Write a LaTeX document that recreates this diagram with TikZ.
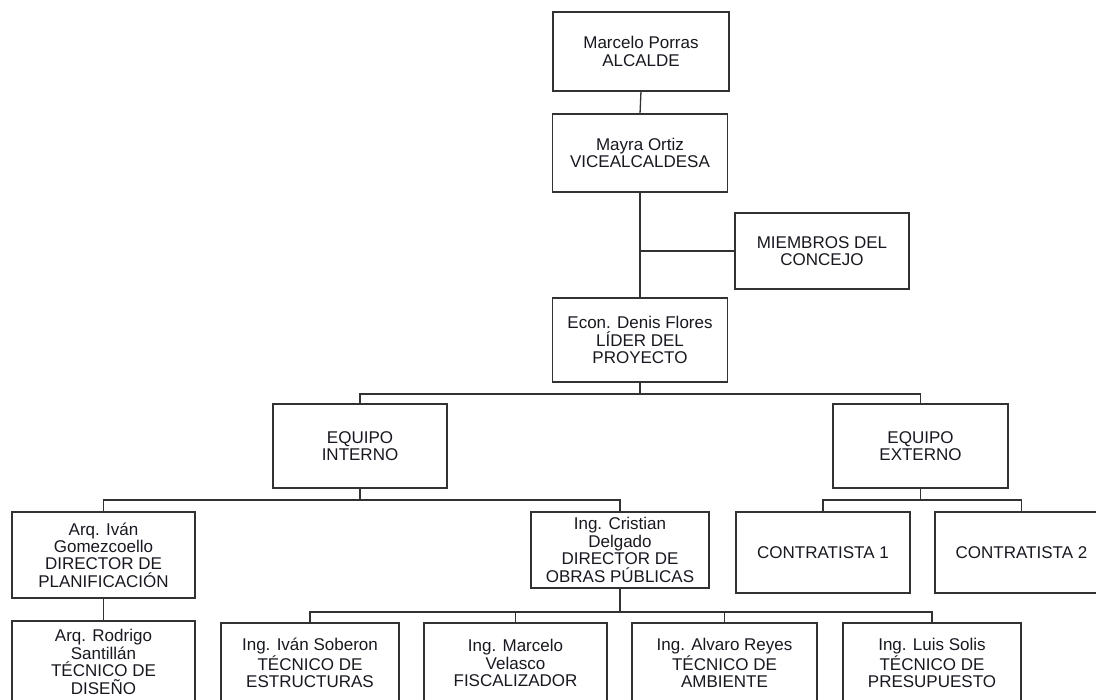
\documentclass[tikz,border=0pt]{standalone}
\usepackage{fontspec}
\setmainfont{Liberation Sans}
\usetikzlibrary{positioning, calc}
\definecolor{linegray}{RGB}{50,50,50}
\definecolor{textgray}{RGB}{24,24,32}

\begin{document}
\begin{tikzpicture}[x=1pt, y=-1pt,
    unit/.style ={rectangle, draw=linegray, line width=1.3pt, fill=white, align=center, inner sep=0pt, outer sep=0pt, text=textgray, font=\fontsize{17}{17.4}\selectfont},
    link/.style ={draw=linegray, line width=1.3pt}
]
% --- frame (the picture is cut at the bottom and right) ---
\useasboundingbox (0,0) rectangle (1096,700);
\clip (0,0) rectangle (1096,700);
\fill[white] (0,0) rectangle (1096,700);

% --- top of the chart ---
\node[unit, minimum width=176pt, minimum height=79pt] (alcalde)  at (641,51.5)  {Marcelo Porras\\ALCALDE};
\node[unit, minimum width=175pt, minimum height=78pt] (vice)     at (640,153)   {Mayra Ortiz\\VICEALCALDESA};
\node[unit, minimum width=174pt, minimum height=76pt] (miembros) at (822,251)   {MIEMBROS DEL\\CONCEJO};
\node[unit, minimum width=175pt, minimum height=84pt] (lider)    at (640,340)   {Econ. Denis Flores\\LÍDER DEL\\PROYECTO};

% --- teams ---
\node[unit, minimum width=174pt, minimum height=84pt] (interno)  at (360,446)   {EQUIPO\\INTERNO};
\node[unit, minimum width=175pt, minimum height=84pt] (externo)  at (920.5,446) {EQUIPO\\EXTERNO};

% --- directors and contractors ---
\node[unit, minimum width=183pt, minimum height=86pt] (ivan)     at (103.5,555) {Arq. Iván\\Gomezcoello\\DIRECTOR DE\\PLANIFICACIÓN};
\node[unit, minimum width=178pt, minimum height=76pt] (cristian) at (620,550)   {Ing. Cristian\\Delgado\\DIRECTOR DE\\OBRAS PÚBLICAS};
\node[unit, minimum width=174pt, minimum height=81pt] (contr1)   at (823,552.5) {CONTRATISTA 1};
\node[unit, minimum width=173pt, minimum height=81pt] (contr2)   at (1021.5,552.5) {CONTRATISTA 2};

% --- technicians (bottom row) ---
\node[unit, minimum width=183pt, minimum height=82pt] (rodrigo)  at (103.5,662) {Arq. Rodrigo\\Santillán\\TÉCNICO DE\\DISEÑO};
\node[unit, minimum width=178pt, minimum height=80pt] (soberon)  at (310,663)   {Ing. Iván Soberon\\TÉCNICO DE\\ESTRUCTURAS};
\node[unit, minimum width=183pt, minimum height=80pt] (velasco)  at (515.5,663) {Ing. Marcelo\\Velasco\\FISCALIZADOR};
\node[unit, minimum width=185pt, minimum height=80pt] (reyes)    at (724.5,663) {Ing. Alvaro Reyes\\TÉCNICO DE\\AMBIENTE};
\node[unit, minimum width=178pt, minimum height=80pt] (solis)    at (932,663)   {Ing. Luis Solis\\TÉCNICO DE\\PRESUPUESTO};

% --- connectors ---
\draw[link] (alcalde.south) -- (vice.north);
\draw[link] (vice.south) -- (lider.north);
\draw[link] (vice.south |- miembros.west) -- (miembros.west);
\draw[link] (lider.south) -- ++(0,12) -| (interno.north);
\draw[link] (lider.south) -- ++(0,12) -| (externo.north);
\draw[link] (interno.south) -- ++(0,12) -| (ivan.north);
\draw[link] (interno.south) -- ++(0,12) -| (cristian.north);
\draw[link] (externo.south) -- ++(0,12) -| (contr1.north);
\draw[link] (externo.south) -- ++(0,12) -| (contr2.north);
\draw[link] (ivan.south) -- (rodrigo.north);
\draw[link] (cristian.south) -- ++(0,24) -| (soberon.north);
\draw[link] (cristian.south) -- ++(0,24) -| (velasco.north);
\draw[link] (cristian.south) -- ++(0,24) -| (reyes.north);
\draw[link] (cristian.south) -- ++(0,24) -| (solis.north);
\end{tikzpicture}
\end{document}
